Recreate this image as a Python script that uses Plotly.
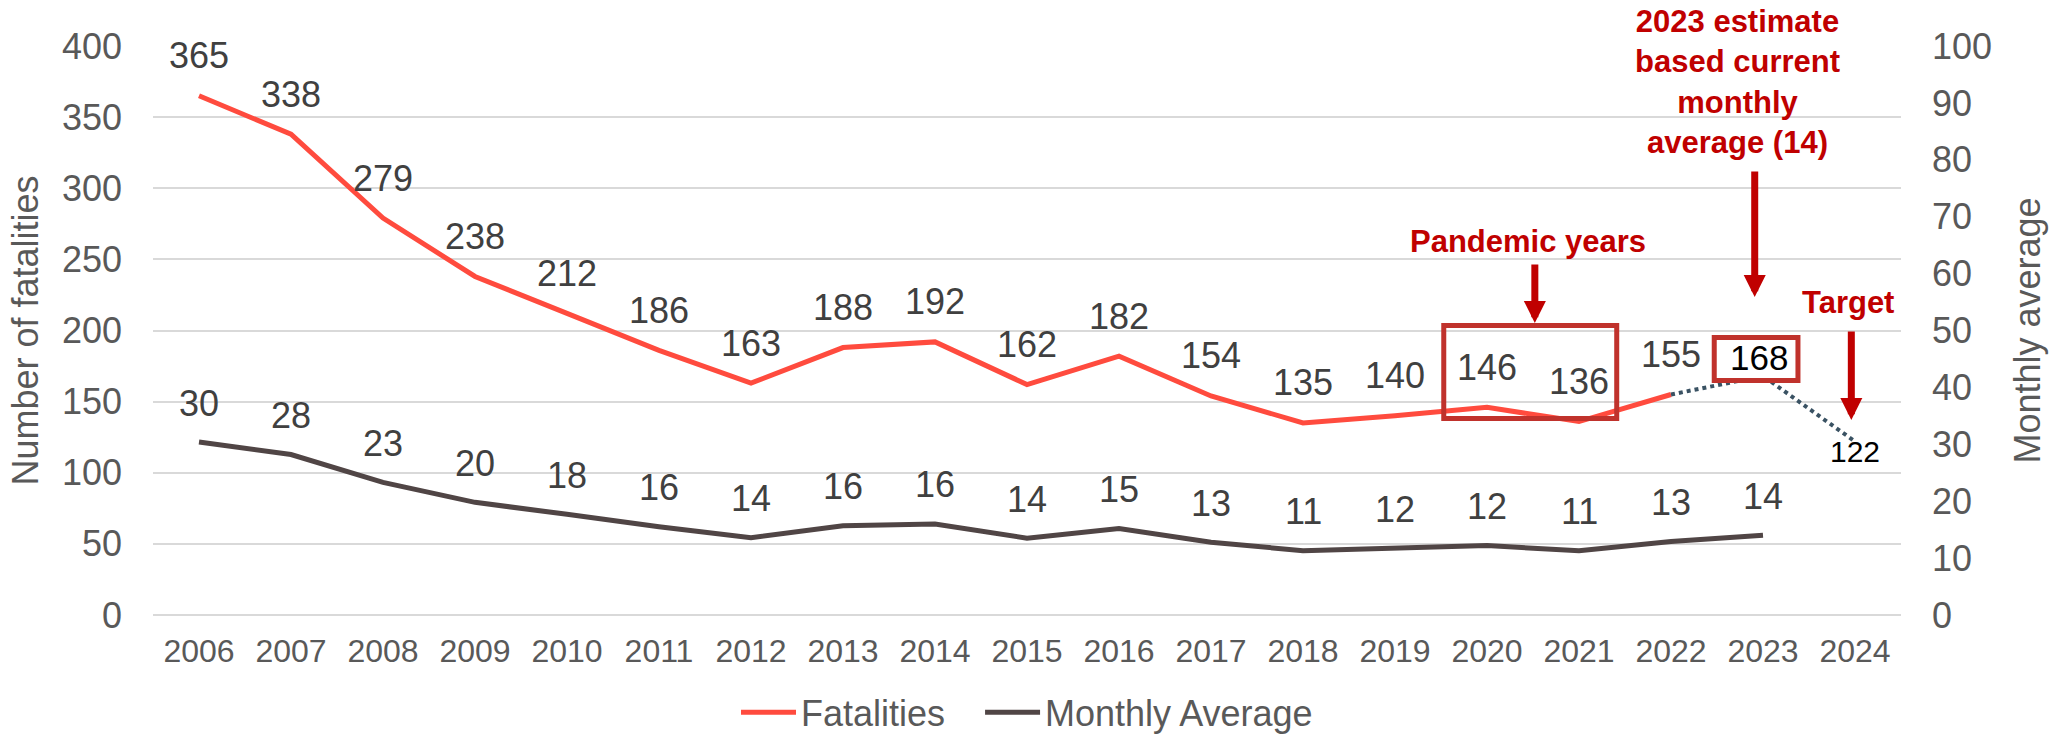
import math
import plotly.graph_objects as go

# ---------------- data ----------------
years = ["2006", "2007", "2008", "2009", "2010", "2011", "2012", "2013", "2014", "2015",
         "2016", "2017", "2018", "2019", "2020", "2021", "2022", "2023", "2024"]

fatal_years = years[:17]            # 2006-2022
fatalities = [365, 338, 279, 238, 212, 186, 163, 188, 192, 162,
              182, 154, 135, 140, 146, 136, 155]

monthly_years = years[:18]          # 2006-2023
monthly_avg = [30.4, 28.2, 23.3, 19.8, 17.7, 15.5, 13.6, 15.7, 16.0, 13.5,
               15.2, 12.8, 11.3, 11.7, 12.2, 11.3, 12.9, 14.0]

proj_years = ["2022", "2023", "2024"]
estimate_2023 = 168
target_2024 = 122
proj_values = [fatalities[-1], estimate_2023, target_2024]

# ---------------- styles ----------------
FONT = "Liberation Sans, Arial, sans-serif"
RED = "#FF4B3E"
DARK = "#504545"
SLATE = "#3A5263"
BOX = "#C0322C"
ANNO = "#C00000"
TICK = "#595959"
LABEL = "#404040"
GRID = "#D9D9D9"
NBSP = "\u00a0"


def idx(year):
    return years.index(year)


fig = go.Figure()
fig.add_trace(go.Scatter(x=fatal_years, y=fatalities, name="Fatalities" + NBSP * 3,
                         mode="lines", line=dict(color=RED, width=5), yaxis="y"))
fig.add_trace(go.Scatter(x=monthly_years, y=monthly_avg, name="Monthly Average", mode="lines",
                         line=dict(color=DARK, width=5), yaxis="y2"))
fig.add_trace(go.Scatter(x=proj_years, y=proj_values, mode="lines", showlegend=False,
                         line=dict(color=SLATE, width=4, dash="dot"), yaxis="y"))

annotations = []
for x, v in zip(fatal_years, fatalities):
    annotations.append(dict(x=idx(x), y=v, xref="x", yref="y", text=str(v), showarrow=False,
                            yshift=40, font=dict(size=36, color=LABEL, family=FONT)))
for x, v in zip(monthly_years, monthly_avg):
    annotations.append(dict(x=idx(x), y=v, xref="x", yref="y2", text=str(math.floor(v + 0.5)),
                            showarrow=False, yshift=39,
                            font=dict(size=36, color=LABEL, family=FONT)))
# estimate and target labels
annotations.append(dict(x=idx("2023"), y=estimate_2023, xref="x", yref="y",
                        text=str(estimate_2023), showarrow=False, yshift=19, xshift=-4,
                        font=dict(size=35, color="#000000", family=FONT)))
annotations.append(dict(x=idx("2024"), y=target_2024, xref="x", yref="y",
                        text=str(target_2024), showarrow=False, yshift=-10,
                        font=dict(size=30, color="#000000", family=FONT)))

# arrows
for ax_x, ax_y, length in [(14.52, 205.3, -60), (16.91, 223.5, -127), (17.96, 137.1, -90)]:
    annotations.append(dict(x=ax_x, y=ax_y, xref="x", yref="y", text="", showarrow=True,
                            ax=0, ay=length, arrowhead=2, arrowsize=0.63, arrowwidth=7,
                            arrowcolor=ANNO))

# red callout texts
annotations.append(dict(x=14.45, y=262.9, xref="x", yref="y", text="<b>Pandemic years</b>",
                        showarrow=False, yanchor="middle",
                        font=dict(size=31, color=ANNO, family=FONT)))
annotations.append(dict(x=16.72, y=0.9367, xref="x", yref="paper",
                        text="<b>2023 estimate<br>based current<br>monthly<br>average (14)</b>",
                        showarrow=False, yanchor="middle", align="center",
                        font=dict(size=31, color=ANNO, family=FONT)))
annotations.append(dict(x=17.92, y=220, xref="x", yref="y", text="<b>Target</b>",
                        showarrow=False, yanchor="middle",
                        font=dict(size=31, color=ANNO, family=FONT)))

shapes = [
    dict(type="rect", xref="x", yref="y", x0=13.53, x1=15.41, y0=138.1, y1=203.5,
         line=dict(color=BOX, width=5), fillcolor="rgba(0,0,0,0)", layer="above"),
    dict(type="rect", xref="x", yref="y", x0=16.47, x1=17.38, y0=164.9, y1=195.1,
         line=dict(color=BOX, width=5), fillcolor="#FFFFFF", layer="above"),
]

fig.update_layout(
    width=2062, height=736,
    margin=dict(l=153, r=161, t=46, b=121, autoexpand=False),
    paper_bgcolor="white", plot_bgcolor="white",
    font=dict(family=FONT, color=TICK),
    showlegend=True,
    legend=dict(orientation="h", x=0.5, xanchor="center", y=-0.171, yanchor="middle",
                font=dict(size=36, color=TICK, family=FONT), itemwidth=55,
                bgcolor="rgba(0,0,0,0)"),
    xaxis=dict(type="category", categoryorder="array", categoryarray=years,
               range=[-0.5, 18.5], showgrid=False, showline=False, zeroline=False,
               ticks="", tickfont=dict(size=32, color=TICK, family=FONT),
               ticklabelstandoff=14),
    yaxis=dict(range=[0, 400], dtick=50, tick0=0, showgrid=True, gridcolor=GRID, gridwidth=2,
               zeroline=True, zerolinecolor=GRID, zerolinewidth=2, showline=False,
               ticks="", ticklabelstandoff=30,
               tickfont=dict(size=36, color=TICK, family=FONT),
               title=dict(text="Number of fatalities", standoff=12,
                          font=dict(size=36, color=TICK, family=FONT))),
    yaxis2=dict(range=[0, 100], dtick=10, tick0=0, overlaying="y", side="right",
                showgrid=False, zeroline=False, showline=False, ticks="",
                ticklabelstandoff=30,
                tickfont=dict(size=36, color=TICK, family=FONT),
                title=dict(text="Monthly average", standoff=23,
                           font=dict(size=36, color=TICK, family=FONT))),
    annotations=annotations,
    shapes=shapes,
)

fig.write_html("out.html", config={"displayModeBar": False},
               post_script="document.body.style.margin='0';document.body.style.overflow='hidden';")
